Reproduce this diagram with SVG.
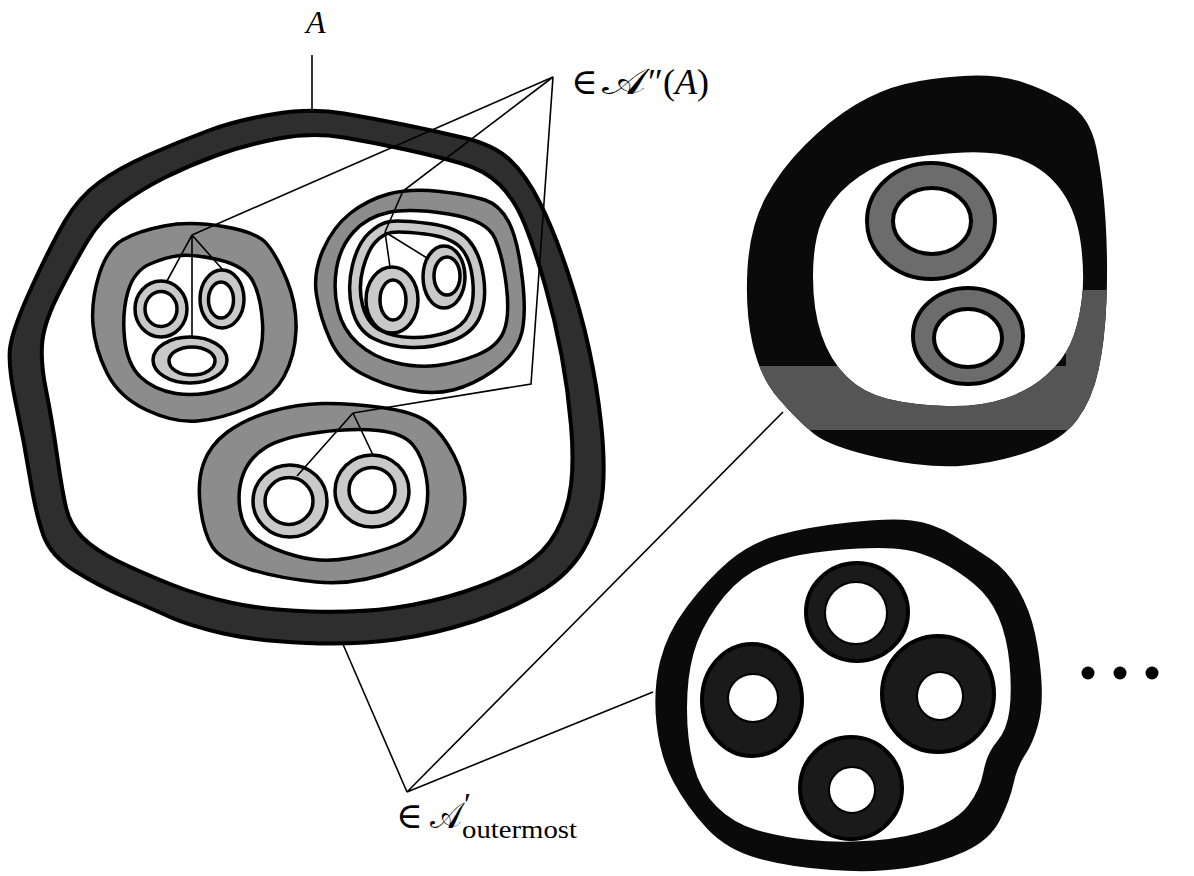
<svg xmlns="http://www.w3.org/2000/svg" width="1194" height="876" viewBox="0 0 1194 876">
<style>
.ringA{fill:#2e2e2e;stroke:#000;stroke-width:4;fill-rule:evenodd}
.g2{fill:#8c8c8c;stroke:#000;stroke-width:3.5}
.g3{fill:#c9c9c9;stroke:#000;stroke-width:3.5}
.hole{fill:#fff;stroke:#000;stroke-width:3.5}
.blk{fill:#0a0a0a;fill-rule:evenodd}
.g4{fill:#6c6c6c;stroke:#000;stroke-width:4}
.g5{fill:#1a1a1a;stroke:#000;stroke-width:4}
.ln{fill:none;stroke:#000;stroke-width:1.6;stroke-linejoin:miter}
.lbl{font-family:"Liberation Serif","DejaVu Serif",serif;fill:#000}
.cal{font-family:"DejaVu Serif","Noto Sans","Liberation Serif",serif;font-style:normal}
</style>
<defs>
<path id="trOuter" d="M905,84 Q930,78 963.5,76 Q997,74 1022,82 Q1047,90 1068.5,103.5 Q1090,117 1096.5,148.5 Q1103,180 1105.5,220 Q1108,260 1106.5,300 Q1105,340 1098.5,370 Q1092,400 1077,420 Q1062,440 1031,451 Q1000,462 965,465.5 Q930,469 880,458 Q830,447 813.5,433.5 Q797,420 778.5,398.5 Q760,377 752.5,343.5 Q745,310 747.5,268.5 Q750,227 765,198.5 Q780,170 805,145 Q830,120 855,105 Q880,90 905,84 Z M891.5,161.5 Q913,156 955,153 Q997,150 1022,160 Q1047,170 1062,191.5 Q1077,213 1081,245 Q1085,277 1081.5,302 Q1078,327 1070.5,343.5 Q1063,360 1046.5,375 Q1030,390 1005,398.5 Q980,407 946.5,406 Q913,405 888,399 Q863,393 846.5,376.5 Q830,360 821.5,335 Q813,310 813,276.5 Q813,243 821.5,221.5 Q830,200 850,183.5 Q870,167 891.5,161.5 Z"/>
<clipPath id="trClip"><use href="#trOuter" clip-rule="evenodd"/></clipPath>
</defs>
<rect width="1194" height="876" fill="#fff"/>

<g id="ringA">
<path class="ringA" d="M274.5,114 Q312,108 344,113.5 Q376,119 405.5,125 Q435,131 464.5,138 Q494,145 510,160 Q526,175 540,203 Q554,231 567.5,271.5 Q581,312 589,349 Q597,386 601,423 Q605,460 603,487.5 Q601,515 587,543 Q573,571 543.5,589.5 Q514,608 474.5,621 Q435,634 395.5,639.5 Q356,645 306.5,643 Q257,641 223.5,633.5 Q190,626 170,617 Q150,608 124.5,597 Q99,586 75,571 Q51,556 43.5,535.5 Q36,515 30,478 Q24,441 16,404 Q8,367 10,348.5 Q12,330 31.5,287.5 Q51,245 65,221 Q79,197 99,182.5 Q119,168 148.5,155 Q178,142 207.5,131 Q237,120 274.5,114 Z M278.5,138.5 Q312,132 344,137.5 Q376,143 405.5,149.5 Q435,156 460,163 Q485,170 500,185 Q515,200 525,225 Q535,250 545,285 Q555,320 561.5,355 Q568,390 571,425 Q574,460 571,485 Q568,510 556.5,531.5 Q545,553 522.5,566.5 Q500,580 465,591.5 Q430,603 393,608 Q356,613 310.5,611.5 Q265,610 232.5,603 Q200,596 170,584 Q140,572 117.5,561 Q95,550 82.5,537.5 Q70,525 66,507.5 Q62,490 57,455 Q52,420 46,390 Q40,360 42.5,340 Q45,320 60,291 Q75,262 87.5,241 Q100,220 120,205 Q140,190 165,177.5 Q190,165 217.5,155 Q245,145 278.5,138.5 Z"/>
</g>

<g id="groupLeft">
<path class="g2" d="M164,226 Q190,221 223.5,226.5 Q257,232 267,244 Q277,256 287,280.5 Q297,305 296,330.5 Q295,356 284,376.5 Q273,397 247,408 Q221,419 197.5,421 Q174,423 146.5,410 Q119,397 107,373 Q95,349 93,325 Q91,301 99,275 Q107,249 122.5,240 Q138,231 164,226 Z"/>
<path class="hole" d="M180,255.5 Q194,254 219.5,260 Q245,266 253,281.5 Q261,297 262.5,323 Q264,349 254.5,365.5 Q245,382 221.5,389.5 Q198,397 176,393.5 Q154,390 140.5,377 Q127,364 124.5,338 Q122,312 128,291.5 Q134,271 150,264 Q166,257 180,255.5 Z"/>
<ellipse class="g3" cx="161" cy="309" rx="26" ry="28"/>
<ellipse class="hole" cx="161" cy="309" rx="16" ry="17.5"/>
<ellipse class="g3" cx="222" cy="299" rx="22" ry="29"/>
<ellipse class="hole" cx="221" cy="300" rx="12.5" ry="18"/>
<ellipse class="g3" cx="190" cy="360" rx="37" ry="23"/>
<ellipse class="hole" cx="192" cy="361" rx="23" ry="14"/>
</g>

<g id="groupRight">
<path class="g2" d="M388.5,194 Q410,188 440,191.5 Q470,195 485,200 Q500,205 509,222.5 Q518,240 522.5,280 Q527,320 520,338.5 Q513,357 493,371 Q473,385 453,390 Q433,395 408,390 Q383,385 361.5,373.5 Q340,362 330,339.5 Q320,317 316.5,295 Q313,273 323,250 Q333,227 350,213.5 Q367,200 388.5,194 Z"/>
<path class="hole" d="M388.5,212.5 Q410,208 448.5,214 Q487,220 495,238.5 Q503,257 506.5,287 Q510,317 503.5,332 Q497,347 477,355 Q457,363 437,365.5 Q417,368 395,362.5 Q373,357 358,343.5 Q343,330 338,310 Q333,290 336.5,268.5 Q340,247 353.5,232 Q367,217 388.5,212.5 Z"/>
<path class="g3" d="M390,221.5 Q400,220 428.5,223.5 Q457,227 468.5,240 Q480,253 483.5,276.5 Q487,300 480,316.5 Q473,333 453,340.5 Q433,348 411.5,347.5 Q390,347 373.5,338.5 Q357,330 352,308.5 Q347,287 352.5,265 Q358,243 369,233 Q380,223 390,221.5 Z"/>
<path class="hole" d="M391.5,232.5 Q400,231 425,234 Q450,237 460,247 Q470,257 472.5,278.5 Q475,300 469,313.5 Q463,327 446.5,332.5 Q430,338 411.5,337.5 Q393,337 380,330 Q367,323 362.5,305 Q358,287 363,268.5 Q368,250 375.5,242 Q383,234 391.5,232.5 Z"/>
<ellipse class="g3" cx="392" cy="300" rx="26" ry="33"/>
<ellipse class="hole" cx="393" cy="300" rx="13" ry="20"/>
<ellipse class="g3" cx="444" cy="277" rx="21" ry="31"/>
<ellipse class="hole" cx="447" cy="276" rx="13" ry="19"/>
</g>

<g id="groupBottom">
<path class="g2" d="M322.5,403.5 Q348,403 381.5,407.5 Q415,412 429,423 Q443,434 454,455.5 Q465,477 465,498 Q465,519 454,535.5 Q443,552 399.5,569 Q356,586 316.5,582 Q277,578 249,569 Q221,560 212.5,547 Q204,534 200.5,508 Q197,482 203.5,463.5 Q210,445 227.5,432 Q245,419 271,411.5 Q297,404 322.5,403.5 Z"/>
<path class="hole" d="M318,432.5 Q353,428 378,430.5 Q403,433 413,445 Q423,457 426.5,478.5 Q430,500 423.5,518.5 Q417,537 397,545 Q377,553 350,558 Q323,563 298,556.5 Q273,550 258,540 Q243,530 240,510 Q237,490 243.5,473.5 Q250,457 266.5,447 Q283,437 318,432.5 Z"/>
<ellipse class="g3" cx="290" cy="501" rx="37" ry="36"/>
<ellipse class="hole" cx="289" cy="501" rx="24" ry="23.5"/>
<ellipse class="g3" cx="372" cy="491" rx="37" ry="36"/>
<ellipse class="hole" cx="372" cy="490" rx="23" ry="22.5"/>
</g>

<g id="shapeTopRight">
<use href="#trOuter" class="blk"/>
<g clip-path="url(#trClip)">
<rect x="740" y="366" width="372" height="64" fill="#555"/>
<rect x="1066" y="290" width="46" height="80" fill="#555"/>
</g>
<ellipse class="g4" cx="931" cy="221" rx="64" ry="58"/>
<ellipse class="hole" cx="932" cy="221" rx="39" ry="33" style="stroke-width:4"/>
<ellipse class="g4" cx="968" cy="336" rx="55" ry="48"/>
<ellipse class="hole" cx="968" cy="338" rx="34" ry="29" style="stroke-width:4"/>
</g>

<g id="shapeBottomRight">
<path class="blk" d="M848.5,522.5 Q890,518 911.5,520.5 Q933,523 953,535 Q973,547 990,558.5 Q1007,570 1018.5,590 Q1030,610 1035,633.5 Q1040,657 1041.5,682 Q1043,707 1038,725 Q1033,743 1025,755 Q1017,767 1013.5,783.5 Q1010,800 1000,820 Q990,840 965,851.5 Q940,863 906.5,868 Q873,873 831.5,870 Q790,867 758.5,858.5 Q727,850 707,828.5 Q687,807 673.5,782 Q660,757 656.5,723.5 Q653,690 660,661.5 Q667,633 687,606.5 Q707,580 728.5,561.5 Q750,543 778.5,535 Q807,527 848.5,522.5 Z M858.5,548.5 Q890,547 906.5,550 Q923,553 940,561.5 Q957,570 973.5,583.5 Q990,597 998.5,617 Q1007,637 1009.5,663.5 Q1012,690 1009.5,710 Q1007,730 997,741.5 Q987,753 983.5,771.5 Q980,790 968.5,805 Q957,820 932,829 Q907,838 873.5,840.5 Q840,843 810,840 Q780,837 756.5,830 Q733,823 716.5,806.5 Q700,790 693.5,765 Q687,740 687,708.5 Q687,677 693.5,653.5 Q700,630 716.5,606.5 Q733,583 753,571.5 Q773,560 800,555 Q827,550 858.5,548.5 Z"/>
<ellipse class="g5" cx="857" cy="612" rx="51" ry="49"/>
<ellipse class="hole" cx="856" cy="613" rx="31" ry="31" style="stroke-width:2"/>
<ellipse class="g5" cx="752" cy="700" rx="50" ry="56"/>
<ellipse class="hole" cx="753" cy="698" rx="25" ry="24" style="stroke-width:2"/>
<ellipse class="g5" cx="938" cy="694" rx="56" ry="58"/>
<ellipse class="hole" cx="940" cy="696" rx="23" ry="24" style="stroke-width:2"/>
<ellipse class="g5" cx="851" cy="788" rx="51" ry="51"/>
<ellipse class="hole" cx="852" cy="790" rx="23" ry="23" style="stroke-width:2"/>
</g>

<g id="ellipsis" fill="#000">
<circle cx="1088" cy="673" r="6.5"/>
<circle cx="1120" cy="673" r="6.5"/>
<circle cx="1152" cy="673" r="6.5"/>
</g>

<g id="connectors" class="ln">
<path class="ln" d="M312,55 L312,110"/>
<path class="ln" d="M553,77 L192,235"/>
<path class="ln" d="M553,77 L403,191 L385,232"/>
<path class="ln" d="M553,77 L531,384 L353,413"/>
<path class="ln" d="M192,235 L167,281 M192,235 L192,337 M192,235 L223,270"/>
<path class="ln" d="M385,232 L390,267 M385,232 L427,258"/>
<path class="ln" d="M353,413 L297,476 M353,413 L373,455"/>
<path class="ln" d="M407,792 L342,642 M407,792 L783,412 M407,792 L653,692"/>
</g>

<g id="labels">
<text class="lbl" x="306" y="33" font-size="32" font-style="italic">A</text>
<text class="lbl" font-size="36"><tspan x="571" y="94">∈</tspan><tspan x="602" y="94" class="cal" textLength="44" lengthAdjust="spacingAndGlyphs">𝒜</tspan><tspan x="648" y="94">″(</tspan><tspan font-style="italic">A</tspan><tspan>)</tspan></text>
<text class="lbl" font-size="36"><tspan x="396" y="828">∈</tspan><tspan x="430" y="828" class="cal" textLength="32" lengthAdjust="spacingAndGlyphs">𝒜</tspan><tspan x="464" y="815" font-size="32">′</tspan></text>
<text class="lbl" x="462" y="838" font-size="26" textLength="115" lengthAdjust="spacingAndGlyphs">outermost</text>
</g>
</svg>
